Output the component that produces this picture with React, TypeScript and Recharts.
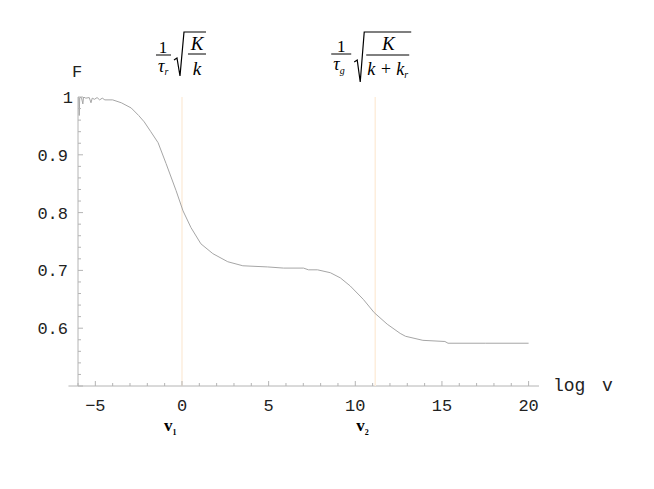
import { LineChart, Line, XAxis, YAxis, ReferenceLine } from 'recharts';

// log v  ->  F
const logV = [
  -6.0, -5.96, -5.93, -5.9, -5.8, -5.72, -5.68, -5.55, -5.35, -5.25, -5.18, -5.05, -4.9, -4.75, -4.6, -4.45,
  -4.0, -3.5, -2.93, -2.5, -2.18, -1.8, -1.38, -0.92, -0.34, 0.06, 0.52, 1.09, 1.78, 2.64, 3.51, 4.94, 5.86,
  7.01, 7.3, 7.82, 8.56, 9.14, 9.71, 10.46, 11.09, 11.84, 12.59, 12.9, 13.9, 15.17, 15.35, 17.5, 20,
];
const fValues = [
  1.0, 0.998, 0.968, 0.999, 0.999, 0.988, 1.0, 0.998, 0.999, 0.99, 0.998, 0.996, 0.999, 0.995, 0.998, 0.995,
  0.995, 0.99, 0.981, 0.968, 0.957, 0.94, 0.921, 0.885, 0.838, 0.803, 0.774, 0.746, 0.729, 0.715, 0.708, 0.706, 0.704,
  0.704, 0.701, 0.701, 0.696, 0.687, 0.673, 0.65, 0.627, 0.607, 0.591, 0.586, 0.579, 0.577, 0.574, 0.574, 0.574,
];

const xTicks = [-6, -5, -4, -3, -2, -1, 0, 1, 2, 3, 4, 5, 6, 7, 8, 9, 10, 11, 12, 13, 14, 15, 16, 17, 18, 19, 20];
const yTicks = [0.5, 0.52, 0.54, 0.56, 0.58, 0.6, 0.62, 0.64, 0.66, 0.68, 0.7, 0.72, 0.74, 0.76, 0.78, 0.8,
  0.82, 0.84, 0.86, 0.88, 0.9, 0.92, 0.94, 0.96, 0.98, 1.0];
const yLabels: Record<string, string> = { '0.6': '0.6', '0.7': '0.7', '0.8': '0.8', '0.9': '0.9', '1': '1' };

const v1 = 0;
const v2 = 11.15;

const data = logV.map((x, i) => ({ logV: x, F: fValues[i] }));

const axisColor = '#b4b4b4';
const markerColor = '#fdeedd';
const mono = '"Liberation Mono", "DejaVu Sans Mono", monospace';
const serif = '"Liberation Serif", "DejaVu Serif", serif';

const XTick = ({ x, y, payload }: any) => {
  const v = payload.value;
  const major = v % 5 === 0;
  return (
    <g>
      <line x1={x} x2={x} y1={y} y2={y - (major ? 5 : 3)} stroke={axisColor} />
      {major && (
        <text x={x} y={y + 25} textAnchor="middle" fontFamily={mono} fontSize={17} fill="#222">
          {v < 0 ? `\u2212${-v}` : v}
        </text>
      )}
    </g>
  );
};

const YTick = ({ x, y, payload }: any) => {
  const v = payload.value;
  const major = Math.abs(v * 10 - Math.round(v * 10)) < 1e-6;
  const label = yLabels[String(Math.round(v * 10) / 10)];
  return (
    <g>
      <line x1={x} x2={x + (major ? 5 : 3)} y1={y} y2={y} stroke={axisColor} />
      {major && label && (
        <text x={label === '1' ? x - 5 : x - 10} y={y + 6} textAnchor="end" fontFamily={mono} fontSize={17} fill="#222">
          {label}
        </text>
      )}
    </g>
  );
};

const Formula1 = ({ viewBox }: any) => {
  const { x, y, height } = viewBox;
  return (
    <g fontFamily={serif} fill="#000">
      <text x={x - 19} y={y - 44} fontSize={17} textAnchor="middle">1</text>
      <line x1={x - 26} x2={x - 11} y1={y - 42} y2={y - 42} stroke="#000" />
      <text x={x - 24} y={y - 25} fontSize={18} fontStyle="italic">
        τ<tspan fontSize={10} dy={3}>r</tspan>
      </text>
      <polyline
        points={`${x - 8},${y - 37} ${x - 5},${y - 39} ${x - 2},${y - 21} ${x + 2},${y - 65} ${x + 24},${y - 65}`}
        fill="none"
        stroke="#000"
        strokeWidth={1.2}
      />
      <text x={x + 15} y={y - 47} fontSize={19} fontStyle="italic" textAnchor="middle">K</text>
      <line x1={x + 6} x2={x + 24} y1={y - 43} y2={y - 43} stroke="#000" />
      <text x={x + 15} y={y - 22} fontSize={19} fontStyle="italic" textAnchor="middle">k</text>
      <text x={x - 18} y={y + height + 45} fontSize={17} fontWeight="bold">
        v<tspan fontSize={8} dy={4}>1</tspan>
      </text>
    </g>
  );
};

const Formula2 = ({ viewBox }: any) => {
  const { x, y, height } = viewBox;
  return (
    <g fontFamily={serif} fill="#000">
      <text x={x - 34} y={y - 45} fontSize={17} textAnchor="middle">1</text>
      <line x1={x - 44} x2={x - 24} y1={y - 43} y2={y - 43} stroke="#000" />
      <text x={x - 42} y={y - 27} fontSize={18} fontStyle="italic">
        τ<tspan fontSize={10} dy={4}>g</tspan>
      </text>
      <polyline
        points={`${x - 21},${y - 35} ${x - 18},${y - 37} ${x - 15},${y - 15} ${x - 11},${y - 65} ${x + 36},${y - 65}`}
        fill="none"
        stroke="#000"
        strokeWidth={1.2}
      />
      <text x={x + 13} y={y - 47} fontSize={19} fontStyle="italic" textAnchor="middle">K</text>
      <line x1={x - 9} x2={x + 34} y1={y - 42} y2={y - 42} stroke="#000" />
      <text x={x - 8} y={y - 22} fontSize={18} fontStyle="italic">
        k + k<tspan fontSize={10} dy={3}>r</tspan>
      </text>
      <text x={x - 19} y={y + height + 45} fontSize={17} fontWeight="bold">
        v<tspan fontSize={8} dy={4}>2</tspan>
      </text>
    </g>
  );
};

const AxisXLabel = ({ viewBox }: any) => {
  const { x, y, width } = viewBox;
  return (
    <g fontFamily={mono} fontSize={18} fill="#222">
      <text x={x + width + 14} y={y + 5}>log</text>
      <text x={x + width + 63} y={y + 5}>v</text>
    </g>
  );
};

const AxisYLabel = ({ viewBox }: any) => {
  const { x, y, width } = viewBox;
  return (
    <text x={x + width - 1} y={y - 20} textAnchor="middle" fontFamily={mono} fontSize={17} fill="#222">
      F
    </text>
  );
};

export default function App() {
  return (
    <div style={{ position: 'absolute', left: 0, top: 0, background: '#fff' }}>
      <LineChart width={654} height={489} data={data} margin={{ top: 97, right: 115, left: 18, bottom: 73 }}>
        <XAxis
          dataKey="logV"
          type="number"
          domain={[-6, 20.6]}
          ticks={xTicks}
          interval={0}
          allowDataOverflow
          axisLine={false}
          tickLine={false}
          tickSize={0}
          tickMargin={0}
          height={30}
          tick={(p: any) => <XTick {...p} />}
        />
        <YAxis
          type="number"
          domain={[0.5, 1]}
          ticks={yTicks}
          interval={0}
          allowDataOverflow
          width={60}
          axisLine={{ stroke: axisColor }}
          tickLine={false}
          tickSize={0}
          tickMargin={0}
          tick={(p: any) => <YTick {...p} />}
          label={{ content: (p: any) => <AxisYLabel {...p} /> } as any}
        />
        <ReferenceLine
          segment={[{ x: -6.55, y: 0.5 }, { x: 20.6, y: 0.5 }]}
          stroke={axisColor}
          ifOverflow="visible"
          label={(p: any) => <AxisXLabel {...p} />}
        />
        <ReferenceLine x={v1} stroke={markerColor} strokeWidth={1.5} label={(p: any) => <Formula1 {...p} />} />
        <ReferenceLine x={v2} stroke={markerColor} strokeWidth={1.5} label={(p: any) => <Formula2 {...p} />} />
        <Line
          type="linear"
          dataKey="F"
          stroke="#a6a6a6"
          strokeWidth={1}
          dot={false}
          isAnimationActive={false}
        />
      </LineChart>
    </div>
  );
}
